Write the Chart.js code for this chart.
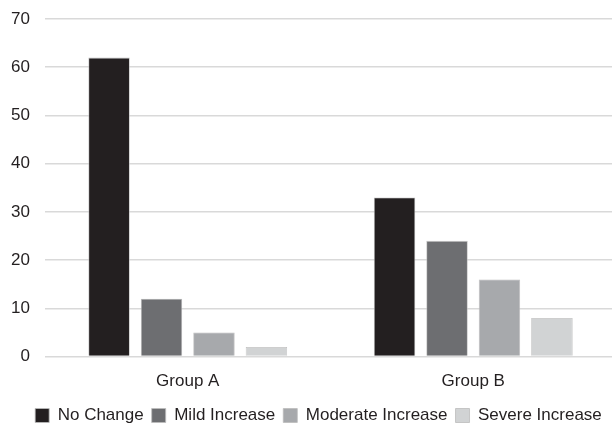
<!DOCTYPE html>
<html>
<head>
<meta charset="utf-8">
<script src="https://cdn.jsdelivr.net/npm/chart.js@4/dist/chart.umd.min.js"></script>
<style>
  html, body { margin: 0; padding: 0; background: #ffffff; overflow: hidden; }
  #wrap { width: 612px; height: 425px; position: relative; overflow: hidden; }
</style>
</head>
<body>
<div id="wrap"><canvas id="c" width="616" height="434"></canvas></div>
<script>
// Groups on the x axis
const categories = ['Group A', 'Group B'];

// One series per severity level
const seriesNames = ['No Change', 'Mild Increase', 'Moderate Increase', 'Severe Increase'];
const noChange = [62, 33];
const mildIncrease = [12, 24];
const moderateIncrease = [5, 16];
const severeIncrease = [2, 8];

const seriesColors = ['#231f20', '#6d6e71', '#a7a9ac', '#d1d3d4'];
const seriesValues = [noChange, mildIncrease, moderateIncrease, severeIncrease];

const datasets = seriesNames.map((name, i) => ({
  label: name,
  data: seriesValues[i],
  backgroundColor: seriesColors[i],
  borderColor: '#bdbdbd',
  borderWidth: 0.8,
  categoryPercentage: 0.735,
  barPercentage: 0.79
}));

const textColor = '#231f20';
const fontFamily = 'Liberation Sans, Arial, sans-serif';

// Nudge the bottom legend a little to the right of the canvas centre
const legendShift = {
  id: 'legendShift',
  afterLayout(chart) {
    if (chart.legend) {
      chart.legend.left += 10.5;
      chart.legend.right += 10.5;
    }
  }
};

new Chart(document.getElementById('c'), {
  type: 'bar',
  data: { labels: categories, datasets: datasets },
  plugins: [legendShift],
  options: {
    responsive: false,
    animation: false,
    devicePixelRatio: 1,
    layout: { padding: { left: 0, right: 0, top: 19, bottom: 0 } },
    plugins: {
      tooltip: { enabled: false },
      legend: {
        position: 'bottom',
        labels: {
          color: textColor,
          font: { family: fontFamily, size: 17 },
          boxWidth: 14,
          boxHeight: 14,
          padding: 8
        }
      }
    },
    scales: {
      x: {
        grid: { display: false },
        border: { display: false },
        ticks: {
          color: textColor,
          font: { family: fontFamily, size: 17 },
          padding: 7
        }
      },
      y: {
        min: 0,
        max: 70,
        afterFit: (scale) => {
          scale.width = 45;
          scale.paddingTop = 0;
          scale.paddingBottom = 0;
        },
        ticks: {
          stepSize: 10,
          color: textColor,
          font: { family: fontFamily, size: 17 },
          padding: 15
        },
        grid: { color: '#d9d9d9', lineWidth: 1.5, drawTicks: false },
        border: { display: false }
      }
    }
  }
});
</script>
</body>
</html>
